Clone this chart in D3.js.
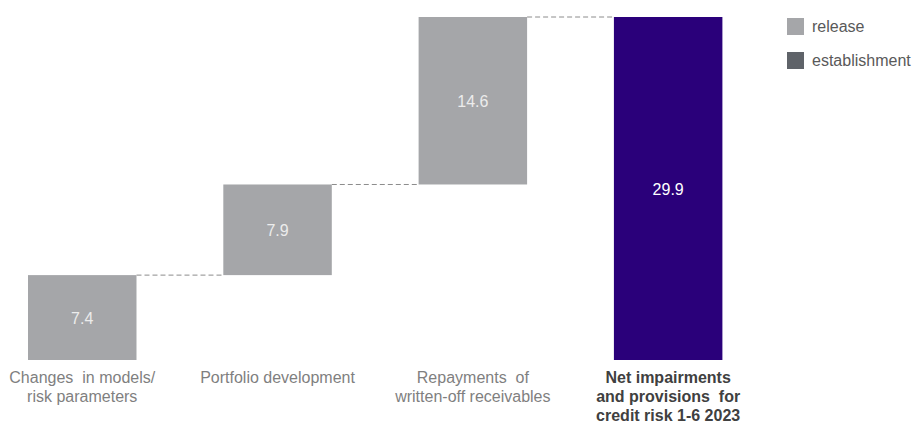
<!DOCTYPE html>
<html><head><meta charset="utf-8">
<script src="https://cdn.jsdelivr.net/npm/d3@7"></script>
<style>body{margin:0;background:#fff;} text{font-family:"Liberation Sans",Arial,sans-serif;white-space:pre;}</style>
</head><body>
<svg id="c" width="913" height="423"></svg>
<script>
const categories = ["Changes  in models/|risk parameters","Portfolio development","Repayments  of|written-off receivables","Net impairments|and provisions  for|credit risk 1-6 2023"];
const values = [7.4, 7.9, 14.6, 29.9];
const types = ["release","release","release","total"];
const legendLabels = ["release","establishment"];
const colors = {release:"#A5A6A9", establishment:"#5F6369", total:"#2A007A"};

const svg = d3.select("#c");
const x = d3.scaleBand().domain(categories).range([28, 722.4]).paddingInner(0.4445).paddingOuter(0);
const y = d3.scaleLinear().domain([0, 29.9]).range([360, 17]);

let cum = 0;
const bars = categories.map((c,i)=>{
  let start, end;
  if (types[i]==="total") { start = 0; end = values[i]; }
  else { start = cum; end = cum + values[i]; cum = end; }
  return {c, v: values[i], start, end, type: types[i]};
});

for (let i=0;i<bars.length-1;i++){
  const lvl = bars[i].end;
  svg.append("line")
    .attr("x1", x(bars[i].c)+x.bandwidth()).attr("x2", x(bars[i+1].c))
    .attr("y1", y(lvl)).attr("y2", y(lvl))
    .attr("stroke","#8c8c8c").attr("stroke-width",1).attr("stroke-dasharray","5,3");
}

svg.selectAll("rect.bar").data(bars).join("rect").attr("class","bar")
  .attr("x", d=>x(d.c)).attr("width", x.bandwidth())
  .attr("y", d=>y(d.end)).attr("height", d=>y(d.start)-y(d.end))
  .attr("fill", d=>colors[d.type]);

svg.selectAll("text.val").data(bars).join("text").attr("class","val")
  .attr("x", d=>x(d.c)+x.bandwidth()/2)
  .attr("y", d=>(y(d.start)+y(d.end))/2+6)
  .attr("text-anchor","middle").attr("font-size",16)
  .attr("fill", d=>d.type==="total"?"#ffffff":"#ececec")
  .text(d=>d.v.toFixed(1));

bars.forEach((d,i)=>{
  const t = svg.append("text").attr("text-anchor","middle")
    .attr("font-size",16).attr("fill", d.type==="total"?"#404040":"#7f7f7f")
    .attr("font-weight", d.type==="total"?"bold":"normal");
  d.c.split("|").forEach((line,j)=>{
    t.append("tspan").attr("x", x(d.c)+x.bandwidth()/2).attr("y", 383+j*19).text(line);
  });
});

const lg = svg.append("g");
legendLabels.forEach((l,i)=>{
  lg.append("rect").attr("x",787).attr("y",18+i*34).attr("width",17).attr("height",17).attr("fill",colors[l]);
  lg.append("text").attr("x",812).attr("y",32+i*34).attr("font-size",16).attr("fill","#595959").text(l);
});
</script>
</body></html>
